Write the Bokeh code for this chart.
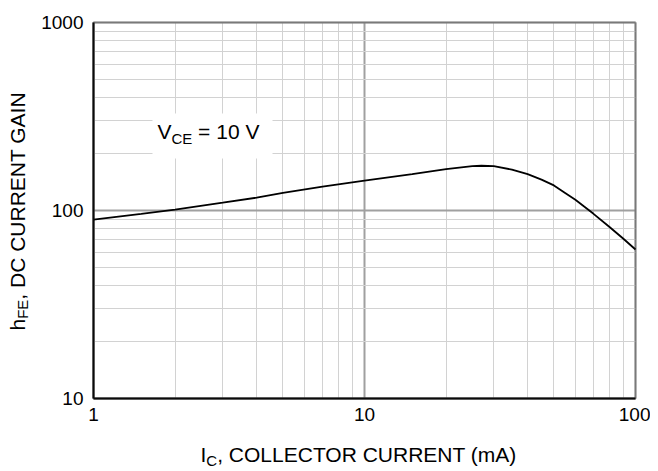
import numpy as np
from bokeh.plotting import figure
from bokeh.models import (FixedTicker, Label, BoxAnnotation, PrintfTickFormatter,
                          LogAxis, Grid)
from bokeh.embed import file_html
from bokeh.resources import INLINE

# ---- data ----
ic_ma = [1, 1.5, 2, 3, 4, 5, 7, 10, 15, 20, 25, 27, 30, 35, 40, 45, 50, 55, 60, 70, 80, 90, 100]
hfe = [89.5, 96, 101, 110, 117, 124, 134, 144, 156, 166, 172, 173, 172, 165, 156, 146, 136, 124, 114, 96, 82, 71, 62]

x_lim = (1, 100)
y_lim = (10, 1000)
x_major = [1, 10, 100]
x_minor = [2, 3, 4, 5, 6, 7, 8, 9, 20, 30, 40, 50, 60, 70, 80, 90]
y_major = [10, 100, 1000]
y_minor = [20, 30, 40, 50, 60, 70, 80, 90, 200, 300, 400, 500, 600, 700, 800, 900]

FONT = "Liberation Sans"

# ---- layout (page pixels) : plot box spans FL..FL+FW, FT..FT+FH ----
FL, FT, FW, FH = 93, 22, 542, 376
W, H = 650, 471
xdec = FW / np.log10(x_lim[1] / x_lim[0])
ydec = FH / np.log10(y_lim[1] / y_lim[0])
# whole canvas is the frame, so that texts outside the plot box are not clipped
x_rng = (x_lim[0] * 10 ** (-FL / xdec), x_lim[0] * 10 ** ((W - FL) / xdec))
y_rng = (y_lim[0] * 10 ** (-(H - FT - FH) / ydec), y_lim[0] * 10 ** ((FT + FH) / ydec))

p = figure(width=W, height=H, x_axis_type="log", y_axis_type="log",
           x_range=x_rng, y_range=y_rng,
           x_axis_location=None, y_axis_location=None,
           output_backend="svg", toolbar_location=None)
p.min_border = 0
p.min_border_left = 0
p.min_border_right = 0
p.min_border_top = 0
p.min_border_bottom = 0
p.center = []
p.background_fill_color = "white"
p.border_fill_color = "white"
p.outline_line_color = None

# grids limited to the plot box
for dim, maj, mnr, b, cb in ((0, x_major, x_minor, x_lim, y_lim), (1, y_major, y_minor, y_lim, x_lim)):
    g = Grid(dimension=dim, ticker=FixedTicker(ticks=maj, minor_ticks=mnr),
             bounds=b, cross_bounds=cb)
    g.grid_line_color = "#a0a0a0"
    g.grid_line_width = 2
    g.minor_grid_line_color = "#d2d2d2"
    g.minor_grid_line_width = 1
    g.level = "underlay"
    p.add_layout(g, "center")

p.line(ic_ma, hfe, line_color="black", line_width=1.8)

# plot box outline
p.add_layout(BoxAnnotation(left=x_lim[0], right=x_lim[1], bottom=y_lim[0], top=y_lim[1],
                           fill_alpha=0, line_color="#222222", line_width=2))

# axes at the plot box edges
xax = LogAxis(fixed_location=y_lim[0], bounds=x_lim,
              ticker=FixedTicker(ticks=x_major, minor_ticks=x_minor))
yax = LogAxis(fixed_location=x_lim[0], bounds=y_lim,
              ticker=FixedTicker(ticks=y_major, minor_ticks=y_minor))
for ax, so in ((xax, 9), (yax, 10)):
    ax.formatter = PrintfTickFormatter(format="%d")
    ax.major_tick_out = 0
    ax.major_tick_in = 0
    ax.minor_tick_out = 0
    ax.minor_tick_in = 0
    ax.axis_line_color = "black"
    ax.axis_line_width = 2
    ax.major_label_text_font = FONT
    ax.major_label_text_font_size = "19px"
    ax.major_label_text_color = "black"
    ax.major_label_standoff = so
p.add_layout(xax, "below")
p.add_layout(yax, "left")

# screen units: relative to the frame (= canvas) bottom-left, y up
def sx(px):
    return px

def sy(py):
    return H - py

# white box behind the condition label
p.add_layout(BoxAnnotation(left=sx(152), right=sx(272), top=sy(113), bottom=sy(158),
                           left_units="screen", right_units="screen",
                           top_units="screen", bottom_units="screen",
                           fill_color="white", fill_alpha=1.0, line_alpha=0))

def lab(text, px, py, size, angle=0.0):
    # (px, py) is the start of the text baseline; anchor the label on the cap middle
    shift = 0.36 * size
    if angle:
        ax_, ay_ = px - shift, py
    else:
        ax_, ay_ = px, py - shift
    p.add_layout(Label(x=sx(ax_), y=sy(ay_), x_units="screen", y_units="screen",
                       text=text, text_font=FONT,
                       text_font_size=f"{size}px", text_color="black",
                       text_align="left", text_baseline="middle", angle=angle))

# V_CE = 10 V
lab("V", 157, 139, 21)
lab("CE", 171, 143, 15)
lab("= 10 V", 197.6, 139, 21)

# x title: I_C, COLLECTOR CURRENT (mA)
lab("I", 200, 462, 21)
lab("C", 205.8, 465, 15)
lab(", COLLECTOR CURRENT (mA)", 216.7, 462, 21)

# y title: h_FE, DC CURRENT GAIN (rotated)
a = np.pi / 2
lab("h", 24.5, 330, 21, a)
lab("FE", 27.5, 318.3, 15, a)
lab(", DC CURRENT GAIN", 24.5, 299.2, 21, a)

open("out.html", "w").write(file_html(p, INLINE))
